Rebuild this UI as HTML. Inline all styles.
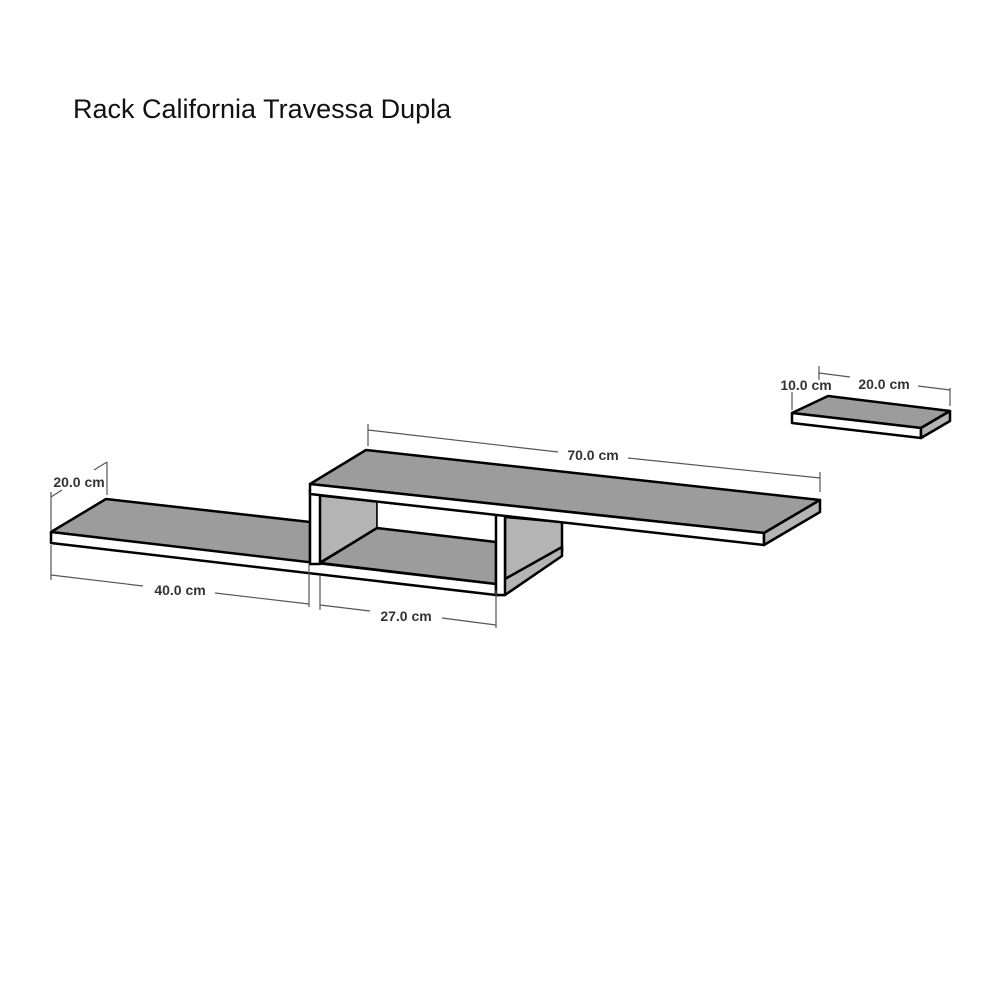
<!DOCTYPE html>
<html><head><style>
body{margin:0;background:#fff;width:1000px;height:1000px;overflow:hidden}
svg{display:block}
</style></head><body>
<svg width="1000" height="1000" viewBox="0 0 1000 1000">
<text x="73" y="118" font-family="Liberation Sans, sans-serif" font-size="27" fill="#111">Rack California Travessa Dupla</text>
<g stroke="#000" stroke-width="2.5" stroke-linejoin="round">
<polygon points="51,532 106,499 310,522 310,563" fill="#9c9c9c"/>
<polygon points="320,496 377,502 377,528 320,562" fill="#b4b4b4" stroke-width="1.5"/>
<polygon points="377,502 496,515 496,542 377,528" fill="#fff" stroke-width="1.5"/>
<polygon points="320,563 377,528 496,542 496,584" fill="#9c9c9c"/>
<polygon points="505,517 562,522 562,552 505,584" fill="#b4b4b4"/>
<polygon points="496,584 562,547 562,556 505,595 496,595" fill="#b4b4b4"/>
<polygon points="51,532 496,584 496,595 51,543" fill="#fff"/>
<rect x="310" y="490" width="10" height="74" fill="#fff"/>
<rect x="496" y="512" width="9" height="83" fill="#fff"/>
<polygon points="310,484 366,450 820,500 764,533" fill="#9c9c9c"/>
<polygon points="310,484 764,533 764,545 310,494" fill="#fff"/>
<polygon points="764,533 820,500 820,512 764,545" fill="#b4b4b4"/>
<polygon points="792,413 828,396 950,411 921,428" fill="#9c9c9c"/>
<polygon points="792,413 921,428 921,438 792,423" fill="#fff"/>
<polygon points="921,428 950,411 950,421 921,438" fill="#b4b4b4"/>
</g>
<g stroke="#555" stroke-width="1.2" fill="none">
<line x1="368" y1="424" x2="368" y2="446"/><line x1="820" y1="472" x2="820" y2="492"/>
<line x1="368" y1="430" x2="558" y2="452"/><line x1="628" y1="458" x2="820" y2="478"/>
<line x1="51" y1="545" x2="51" y2="580"/><line x1="309" y1="565" x2="309" y2="607"/>
<line x1="51" y1="575" x2="143" y2="586"/><line x1="215" y1="593" x2="309" y2="604"/>
<line x1="320" y1="575" x2="320" y2="610"/><line x1="496" y1="590" x2="496" y2="628"/>
<line x1="320" y1="605" x2="370" y2="611"/><line x1="442" y1="618" x2="496" y2="625"/>
<line x1="51" y1="492" x2="51" y2="530"/><line x1="107" y1="462" x2="107" y2="495"/>
<line x1="51" y1="497" x2="62" y2="490"/><line x1="94" y1="470" x2="107" y2="462"/>
<line x1="792" y1="392" x2="792" y2="410"/><line x1="819" y1="366" x2="819" y2="380"/>
<line x1="950" y1="388" x2="950" y2="406"/>
<line x1="819" y1="373" x2="850" y2="377"/><line x1="918" y1="386" x2="950" y2="390"/>
</g>
<g font-family="Liberation Sans, sans-serif" font-size="14" font-weight="bold" fill="#333" text-anchor="middle">
<text x="593" y="460">70.0 cm</text>
<text x="180" y="595">40.0 cm</text>
<text x="406" y="621">27.0 cm</text>
<text x="79" y="487">20.0 cm</text>
<text x="806" y="390">10.0 cm</text>
<text x="884" y="389">20.0 cm</text>
</g>
</svg>
</body></html>
